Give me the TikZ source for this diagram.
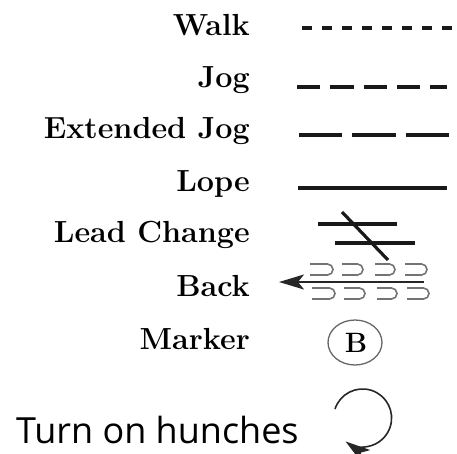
\documentclass[tikz,border=0pt]{standalone}
\usepackage{fontspec}
\newfontfamily\turnfont{Open Sans}
\usetikzlibrary{arrows.meta}
\begin{document}
\begin{tikzpicture}[x=1pt,y=-1pt,
  lbl/.style={anchor=base east,inner sep=0pt,font=\fontsize{30.5}{30.5}\selectfont\bfseries},
  gait/.style={line width=3.2pt,black!90},
  ushape/.style={line width=1.6pt,black!55},
  tip/.style={-{Stealth[length=25pt,width=15pt,inset=6pt]}}]
\useasboundingbox (0,0) rectangle (457,453);
% labels
\node[lbl] (walk) at (250,35) {Walk};
\node[lbl] (jog) at (250,87) {Jog};
\node[lbl] (ext) at (250,138) {Extended Jog};
\node[lbl] (lope) at (250,191) {Lope};
\node[lbl] (lead) at (250,242) {Lead Change};
\node[lbl] (back) at (250,296) {Back};
\node[lbl] (marker) at (250,349) {Marker};
\node[anchor=base west,inner sep=0pt,text depth=0pt,font=\turnfont\fontsize{36}{36}\selectfont] (turn) at (16,443) {Turn on hunches};
% gait lines
\draw[gait,dash pattern=on 10pt off 10pt] (302,28) -- (452,28);
\draw[gait,dash pattern=on 23.3pt off 10pt] (297,87) -- (447,87);
\draw[gait,dash pattern=on 43.3pt off 10pt] (299,135) -- (449,135);
\draw[gait] (298,188) -- (447,188);
% lead change
\draw[gait] (318,224) -- (397,224);
\draw[gait] (335,243) -- (415,243);
\draw[gait] (342,212) -- (388,260);
% back
\foreach \x/\w in {310/23,342/21,375/20,405/22}{
  \draw[ushape] (\x,264) -- ({\x+\w-5.5},264) arc[start angle=-90,end angle=90,radius=5.5] -- (\x,275);
  \draw[ushape] ({\x+2},288) -- ({\x+\w-3.5},288) arc[start angle=-90,end angle=90,radius=5.5] -- ({\x+2},299);
}
\draw[line width=2pt,black!85,tip] (424,282) -- (279,282);
% marker
\draw[line width=1.3pt,black!60] (355,342.5) ellipse[x radius=27,y radius=22.5];
\node[inner sep=0pt,font=\fontsize{28}{28}\selectfont\bfseries] (b) at (356,342.5) {B};
% turn loop
\draw[line width=1.6pt,black!85,tip] (335,409) arc[start angle=198,end angle=486,radius=29];
\end{tikzpicture}
\end{document}
